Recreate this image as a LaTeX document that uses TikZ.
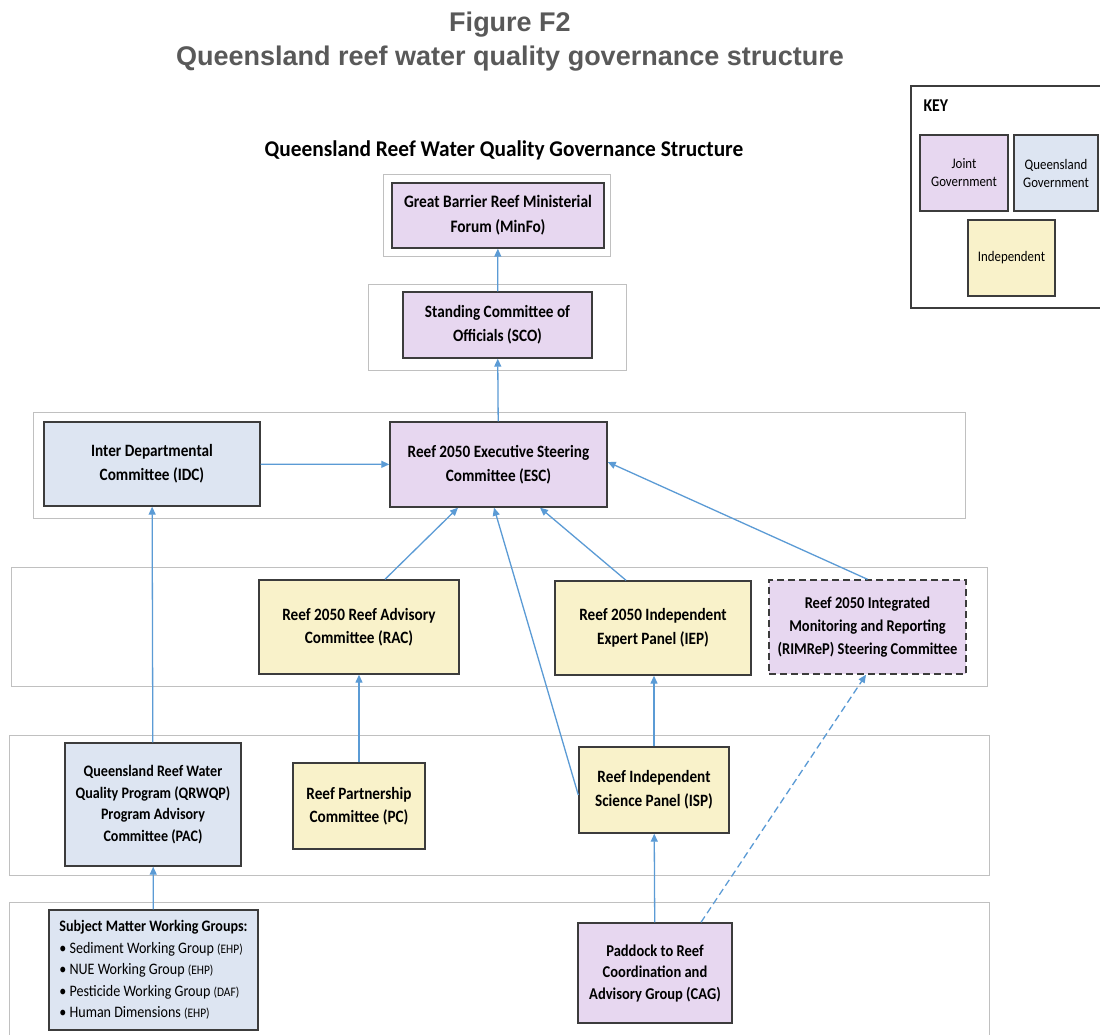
\documentclass[tikz,border=0pt]{standalone}
\usepackage{fontspec}
\setmainfont{Carlito}
\newfontfamily\calf[FakeStretch=0.88]{Carlito}
\newfontfamily\calh[FakeStretch=0.95]{Carlito}
\newfontfamily\arialf{Liberation Sans}
\usetikzlibrary{arrows.meta,calc}
\definecolor{jointc}{RGB}{231,215,240}
\definecolor{qldc}{RGB}{221,229,242}
\definecolor{indc}{RGB}{249,242,202}
\definecolor{arrc}{RGB}{91,155,213}
\definecolor{framec}{RGB}{192,192,192}
\definecolor{edgec}{RGB}{60,60,60}
\definecolor{titlec}{RGB}{89,89,89}
\begin{document}
\begin{tikzpicture}[x=1pt,y=-1pt,
  box/.style={draw=edgec, line width=1.4pt, align=center, inner sep=2pt,
    font=\calf\bfseries\fontsize{17.3}{24}\selectfont, text=black},
  joint/.style={box, fill=jointc},
  qld/.style={box, fill=qldc},
  ind/.style={box, fill=indc},
  keybox/.style={draw=edgec, line width=1.2pt, align=center, inner sep=1pt,
    font=\calf\fontsize{14.6}{18}\selectfont},
  grpframe/.style={draw=framec, line width=1pt},
  link/.style={draw=arrc, line width=1.3pt, -{Triangle[length=8pt,width=7pt]}},
]
\useasboundingbox (0,0) rectangle (1100,1035);
\clip (0,0) rectangle (1100,1035);
\fill[white] (0,0) rectangle (1100,1035);

% titles
\node[font=\arialf\bfseries\fontsize{27}{30}\selectfont, text=titlec] (fig) at (510,25) {Figure F2};
\node[font=\arialf\bfseries\fontsize{27}{30}\selectfont, text=titlec] (figt) at (510,59) {Queensland reef water quality governance structure};
\node[font=\calh\bfseries\fontsize{22.5}{26}\selectfont] (head) at (504,150) {Queensland Reef Water Quality Governance Structure};

% group frames
\draw[grpframe] (383,175) rectangle (610,256);
\draw[grpframe] (368,284) rectangle (626,370);
\draw[grpframe] (33,412) rectangle (965,518);
\draw[grpframe] (11,567) rectangle (987,686);
\draw[grpframe] (9,735) rectangle (989,875);
\draw[grpframe] (9,902) rectangle (989,1045);

% key
\draw[draw=edgec, line width=1.2pt] (911,86) rectangle (1110,308);
\node[anchor=west, font=\calf\bfseries\fontsize{18}{20}\selectfont] (keyt) at (920,106) {KEY};
\node[keybox, fill=jointc, minimum width=88pt, minimum height=76pt] (kj) at (964,173) {Joint\\Government};
\node[keybox, fill=qldc, minimum width=84pt, minimum height=76pt] (kq) at (1056,173) {Queensland\\Government};
\node[keybox, fill=indc, minimum width=87pt, minimum height=76pt] (ki) at (1011.5,258) {Independent};

% nodes
\node[joint, minimum width=212pt, minimum height=65pt, font=\calf\bfseries\fontsize{17.5}{25}\selectfont] (minfo) at (498,215.5) {Great Barrier Reef Ministerial\\Forum (MinFo)};
\node[joint, minimum width=189pt, minimum height=66pt] (sco) at (497.5,325) {Standing Committee of\\Officials (SCO)};
\node[qld, minimum width=216pt, minimum height=84pt] (idc) at (152,464) {Inter Departmental\\Committee (IDC)};
\node[joint, minimum width=217pt, minimum height=85pt] (esc) at (498.5,464.5) {Reef 2050 Executive Steering\\Committee (ESC)};
\node[ind, minimum width=200pt, minimum height=94pt, font=\calf\bfseries\fontsize{17.3}{23}\selectfont] (rac) at (359,627) {Reef 2050 Reef Advisory\\Committee (RAC)};
\node[ind, minimum width=196pt, minimum height=94pt, font=\calf\bfseries\fontsize{17.3}{23.5}\selectfont] (iep) at (653,628) {Reef 2050 Independent\\Expert Panel (IEP)};
\node[joint, dashed, dash pattern=on 7pt off 4pt, minimum width=197pt, minimum height=94pt, font=\calf\bfseries\fontsize{16.5}{23}\selectfont] (rim) at (867.5,627) {Reef 2050 Integrated\\Monitoring and Reporting\\(RIMReP) Steering Committee};
\node[qld, minimum width=176pt, minimum height=123pt, font=\calf\bfseries\fontsize{16}{21.7}\selectfont] (pac) at (153,804.5) {Queensland Reef Water\\Quality Program (QRWQP)\\Program Advisory\\Committee (PAC)};
\node[ind, minimum width=132pt, minimum height=86pt, font=\calf\bfseries\fontsize{17.3}{23}\selectfont] (pc) at (359,806) {Reef Partnership\\Committee (PC)};
\node[ind, minimum width=150pt, minimum height=86pt] (isp) at (654,790) {Reef Independent\\Science Panel (ISP)};
\node[qld, minimum width=209pt, minimum height=120pt, align=left, font=\calf\fontsize{16}{21.5}\selectfont] (smwg) at (153.5,970) {{\bfseries Subject Matter Working Groups:}\\
  • Sediment Working Group {\fontsize{13}{15}\selectfont(EHP)}\\
  • NUE Working Group {\fontsize{13}{15}\selectfont(EHP)}\\
  • Pesticide Working Group {\fontsize{13}{15}\selectfont(DAF)}\\
  • Human Dimensions {\fontsize{13}{15}\selectfont(EHP)}};
\node[joint, minimum width=154pt, minimum height=100pt, font=\calf\bfseries\fontsize{16.5}{21.5}\selectfont] (cag) at (655,973) {Paddock to Reef\\Coordination and\\Advisory Group (CAG)};

% connectors
\draw[link] (sco) -- (minfo);
\draw[link] (esc) -- (sco);
\draw[link] (idc) -- (esc);
\draw[link] ([xshift=26pt]rac.north) -- ([xshift=-40.5pt]esc.south);
\draw[link] ([yshift=-5pt]isp.west) -- ([xshift=-4.5pt]esc.south);
\draw[link] ([xshift=-27pt]iep.north) -- ([xshift=41.5pt]esc.south);
\draw[link] (rim.north) -- ([yshift=2.5pt]esc.east);
\draw[link] (pc) -- (rac);
\draw[link] (pac) -- (idc);
\draw[link] (smwg) -- (pac);
\draw[link] (cag) -- (isp);
\draw[link] (isp.north) -- (iep.south -| isp.north);
\draw[link, dashed, dash pattern=on 7pt off 4pt] ([xshift=46pt]cag.north) -- ([xshift=-1.5pt]rim.south);
\end{tikzpicture}
\end{document}
